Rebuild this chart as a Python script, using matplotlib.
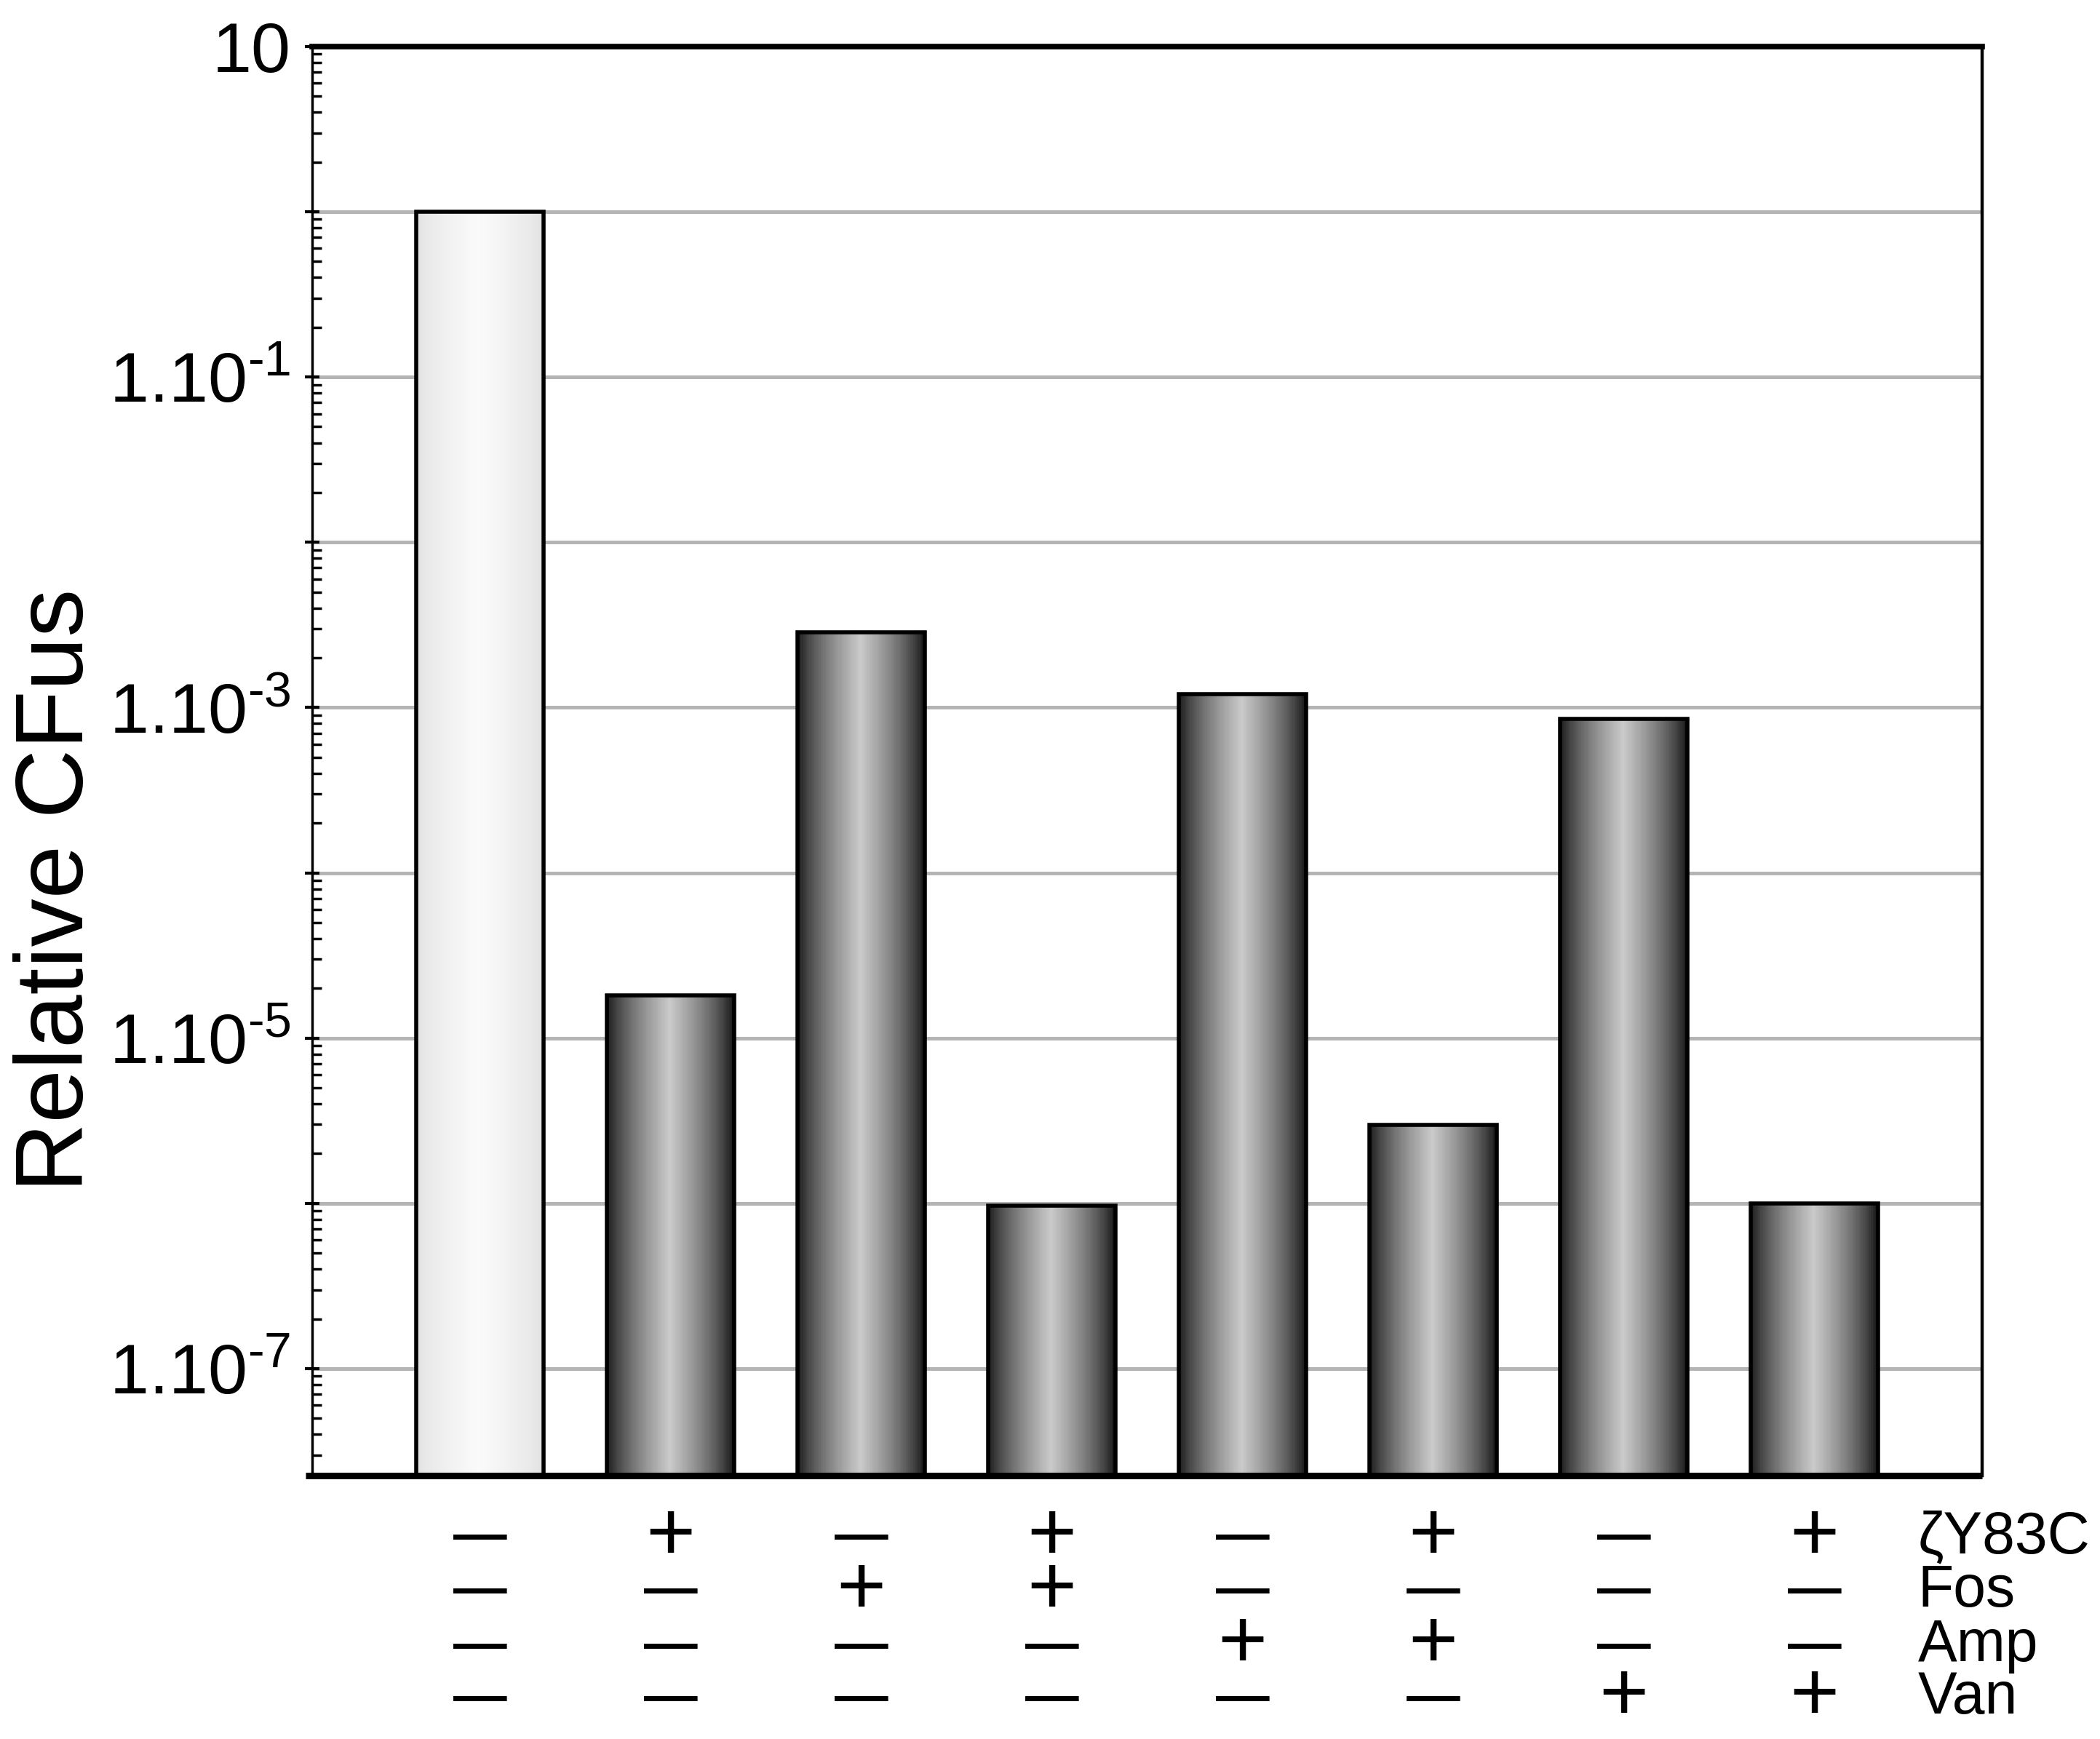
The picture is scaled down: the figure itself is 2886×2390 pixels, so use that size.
import numpy as np
import matplotlib
matplotlib.use("Agg")
from matplotlib import pyplot as plt
from matplotlib.transforms import blended_transform_factory

plt.rcParams['font.family'] = ['Liberation Sans', 'DejaVu Sans']
plt.rcParams['mathtext.fontset'] = 'custom'
plt.rcParams['mathtext.rm'] = 'Liberation Sans'
plt.rcParams['mathtext.it'] = 'Liberation Sans:italic'
plt.rcParams['mathtext.bf'] = 'Liberation Sans:bold'

# data
values = [1.0, 1.82e-5, 2.85e-3, 9.7e-7, 1.21e-3, 2.97e-6, 8.5e-4, 1.0e-6]
row_names = ['ζY83C', 'Fos', 'Amp', 'Van']
zeta = ['-', '+', '-', '+', '-', '+', '-', '+']
fos = ['-', '-', '+', '+', '-', '-', '-', '-']
amp = ['-', '-', '-', '-', '+', '+', '-', '-']
van = ['-', '-', '-', '-', '-', '-', '+', '+']
ytick_vals = [10, 1, 1e-1, 1e-2, 1e-3, 1e-4, 1e-5, 1e-6, 1e-7]
ytick_labels = ['10', '', r'$\mathregular{1.10^{\text{-}1}}$', '', r'$\mathregular{1.10^{\text{-}3}}$', '',
                r'$\mathregular{1.10^{\text{-}5}}$', '', r'$\mathregular{1.10^{\text{-}7}}$']

fig = plt.figure(figsize=(28.86, 23.90), dpi=100)
ax = fig.add_axes([0.1486, 0.1514, 0.7953, 0.8219])
ax.set_yscale('log')
ax.set_ylim(2.25e-8, 10)
ax.set_xlim(-0.88, 7.88)

x = np.arange(len(values))
w = 0.67
bottom = 1e-9

# cylinder-like shading across each bar
t = np.linspace(0, 1, 80)
prof = (1 - np.abs(2 * (t[:-1] + t[1:]) / 2 - 1)) ** 0.7
dark = 0.05 + 0.74 * prof
light = 0.88 + 0.10 * prof
for i, v in enumerate(values):
    xe = x[i] - w / 2 + w * t
    shade = light if i == 0 else dark
    ax.pcolormesh(xe, [bottom, v], shade[None, :], cmap='gray', vmin=0, vmax=1,
                  shading='flat', edgecolors='face', linewidth=0.3, zorder=2)
ax.bar(x, np.array(values) - bottom, bottom=bottom, width=w, fill=False,
       edgecolor='black', linewidth=4, zorder=3)

# axes styling
ax.yaxis.grid(True, which='major', color='#b4b4b4', linewidth=3.6)
ax.set_axisbelow(True)
ax.set_xticks([])
ax.set_yticks(ytick_vals)
ax.set_yticklabels(ytick_labels, fontsize=70)
ax.tick_params(axis='y', which='major', direction='inout', length=14, width=3, pad=14)
ax.tick_params(axis='y', which='minor', direction='in', length=9, width=2.5)
ax.spines['left'].set_linewidth(2.5)
ax.spines['right'].set_linewidth(3.2)
ax.spines['top'].set_linewidth(5.5)
ax.spines['bottom'].set_visible(False)
ax.plot([-0.004, 1], [0, 0], transform=ax.transAxes, color='black', linewidth=6.5,
        clip_on=False, solid_capstyle='butt', zorder=5)

fig.text(0.0275, 0.4879, 'Relative CFus', rotation=90, ha='center', va='center', fontsize=95)

# +/- table under the bars
tr = blended_transform_factory(ax.transData, fig.transFigure)
row_y = [1 - 2113 / 2390, 1 - 2187 / 2390, 1 - 2262 / 2390, 1 - 2334 / 2390]
for row, yy in zip([zeta, fos, amp, van], row_y):
    for xi, s in zip(x, row):
        if s == '+':
            ax.text(xi, yy, '+', transform=tr, ha='center', va='center', fontsize=84)
        else:
            ax.text(xi, yy, '\u2014', transform=tr, ha='center', va='center', fontsize=53,
                    fontweight='bold')
for name, yy in zip(row_names, row_y):
    fig.text(0.9133, yy, name, ha='left', va='center', fontsize=58)

fig.savefig('out.png', dpi=100)
